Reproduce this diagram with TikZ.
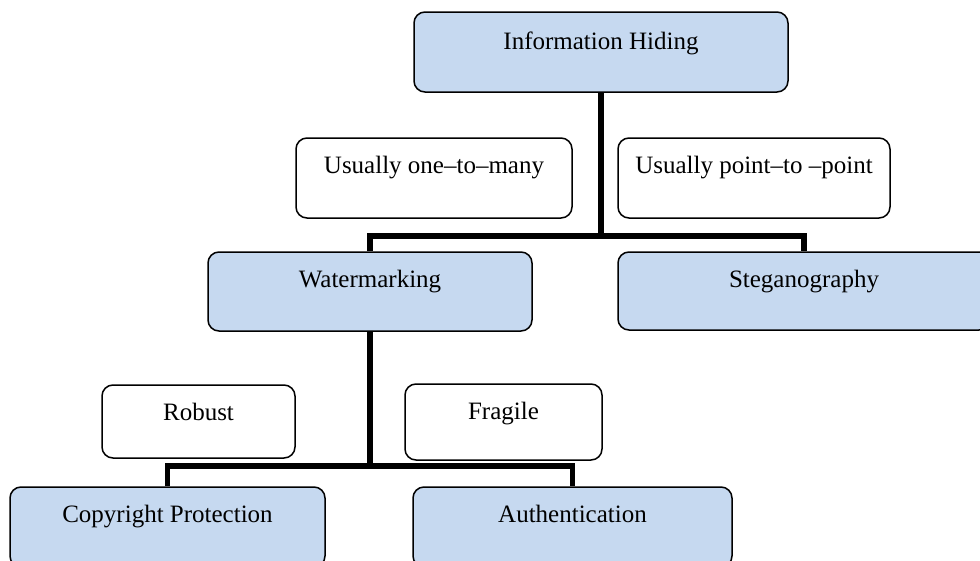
\documentclass[tikz,border=0pt]{standalone}
\usepackage{fontspec}
\setmainfont{Liberation Serif}
\begin{document}
\begin{tikzpicture}[x=1pt,y=-1pt,
  box/.style={draw=black, line width=1.5pt, rounded corners=11pt, inner sep=0pt},
  cat/.style={box, fill=catfill},
  note/.style={box, fill=white},
  lbl/.style={font=\fontsize{25}{30}\selectfont, inner sep=0pt, anchor=base, yshift=-36pt},
  conn/.style={draw=black, line width=5.8pt}]
\definecolor{catfill}{RGB}{198,217,240}
\useasboundingbox (0,0) rectangle (980,560);
\clip (0,0) rectangle (980,560);
% category boxes (shaded) and note boxes (white)
\node[cat, minimum width=374pt, minimum height=80pt] (ih) at (601,52) {};
\node[note, minimum width=276pt, minimum height=80pt] (um) at (434,178) {};
\node[note, minimum width=272pt, minimum height=80pt] (up) at (754,178) {};
\node[cat, minimum width=324pt, minimum height=79pt] (wm) at (370,291.5) {};
\node[cat, minimum width=372pt, minimum height=78pt] (st) at (804,291) {};
\node[note, minimum width=193pt, minimum height=73pt] (rb) at (198.5,421.5) {};
\node[note, minimum width=197pt, minimum height=76pt] (fr) at (503.5,422) {};
\node[cat, minimum width=315pt, minimum height=80pt] (cp) at (167.5,527) {};
\node[cat, minimum width=319pt, minimum height=80pt] (au) at (572.5,527) {};
% labels near the top of each box
\node[lbl, yshift=-2pt] at (ih.north) {Information Hiding};
\node[lbl] at (um.north) {Usually one\textendash to\textendash many};
\node[lbl] at (up.north) {Usually point\textendash to \textendash point};
\node[lbl] at (wm.north) {Watermarking};
\node[lbl] at (st.north) {Steganography};
\node[lbl] at (rb.north) {Robust};
\node[lbl] at (fr.north) {Fragile};
\node[lbl] at (cp.north) {Copyright Protection};
\node[lbl] at (au.north) {Authentication};
% tree connectors
\coordinate (j1) at (601,236);
\coordinate (j2) at (370,466);
\draw[conn] (ih.south) -- (j1);
\draw[conn] (wm.north) |- (j1) -| (st.north);
\draw[conn] (wm.south) -- (j2);
\draw[conn] (cp.north) |- (j2) -| (au.north);
\end{tikzpicture}
\end{document}
